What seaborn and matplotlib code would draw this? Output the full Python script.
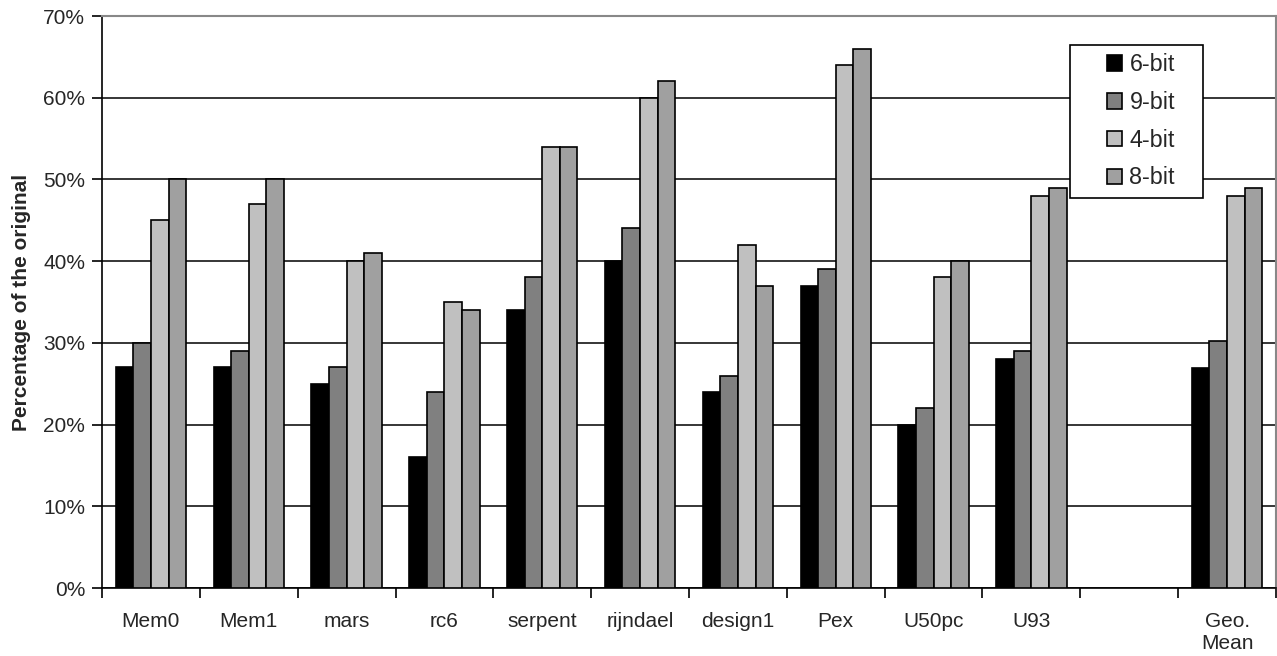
import matplotlib
matplotlib.use("Agg")
import matplotlib.pyplot as plt
import matplotlib.patches as mpatches
from matplotlib.legend_handler import HandlerPatch
import numpy as np
import pandas as pd
import seaborn as sns

# Benchmarks (one blank slot before the geometric mean)
categories = ["Mem0", "Mem1", "mars", "rc6", "serpent", "rijndael",
              "design1", "Pex", "U50pc", "U93", " ", "Geo.\nMean"]
series = ["6-bit", "9-bit", "4-bit", "8-bit"]

vals_6bit = [27, 27, 25, 16, 34, 40, 24, 37, 20, 28, None, 26.9]
vals_9bit = [30, 29, 27, 24, 38, 44, 26, 39, 22, 29, None, 30.2]
vals_4bit = [45, 47, 40, 35, 54, 60, 42, 64, 38, 48, None, 48]
vals_8bit = [50, 50, 41, 34, 54, 62, 37, 66, 40, 49, None, 49]

colors = ["#000000", "#808080", "#C0C0C0", "#A0A0A0"]

rows = []
for name, vals in zip(series, [vals_6bit, vals_9bit, vals_4bit, vals_8bit]):
    for cat, v in zip(categories, vals):
        if v is not None:
            rows.append({"bench": cat, "config": name, "pct": v})
df = pd.DataFrame(rows)

sns.set_theme(style="white")
plt.rcParams["font.family"] = ["Liberation Sans", "DejaVu Sans"]

fig = plt.figure(figsize=(12.77, 6.56), dpi=100)
ax = fig.add_axes([102 / 1277, 1 - 588 / 656, (1276 - 102) / 1277, (588 - 16) / 656])

sns.barplot(data=df, x="bench", y="pct", hue="config", order=categories,
            hue_order=series, palette=colors, width=0.72, gap=0,
            edgecolor="black", linewidth=1.2, saturation=1, ax=ax, zorder=3)

ax.set_ylim(0, 70)
ax.set_xlim(-0.5, len(categories) - 0.5)
ax.set_yticks(np.arange(0, 71, 10))
ax.set_yticklabels([f"{t}%" for t in range(0, 71, 10)], fontsize=15)
ax.yaxis.grid(True, color="black", linewidth=1.1, zorder=0)
ax.set_axisbelow(True)

# Category boundaries carry the tick marks; labels sit at the centres
ax.set_xticks(np.arange(-0.5, len(categories), 1.0))
ax.set_xticklabels([])
ax.set_xticks(np.arange(len(categories)), minor=True)
ax.set_xticklabels(categories, minor=True, fontsize=15, linespacing=1.2)
ax.tick_params(axis="x", which="major", direction="out", length=7, width=1.2,
               color="black", bottom=True)
ax.tick_params(axis="x", which="minor", length=0, pad=17)
ax.tick_params(axis="y", direction="out", length=7, width=1.2, color="black",
               left=True, pad=5)

ax.set_xlabel("")
ax.set_ylabel("Percentage of the original", fontsize=15, fontweight="bold")
ax.yaxis.set_label_coords(-(102 - 31) / 1174, 0.5)

for side in ["left", "bottom"]:
    ax.spines[side].set_color("black")
    ax.spines[side].set_linewidth(1.2)
for side in ["top", "right"]:
    ax.spines[side].set_color("#888888")
    ax.spines[side].set_linewidth(1.5)


def square_handle(legend, orig_handle, xdescent, ydescent, width, height, fontsize):
    # square swatch pushed to the right end of the handle slot
    return mpatches.Rectangle((-xdescent + width - height, -ydescent), height, height)


handles, labels = ax.get_legend_handles_labels()
leg = ax.legend(handles, labels, loc="upper left",
                bbox_to_anchor=(0.8245, 0.949, 0.1133, 0), mode="expand",
                borderaxespad=0, fontsize=16.8, frameon=True, fancybox=False,
                shadow=False, handlelength=1.9, handleheight=0.64,
                handletextpad=0.3, labelspacing=0.63, borderpad=0.35,
                handler_map={mpatches.Rectangle: HandlerPatch(patch_func=square_handle)})
leg.get_frame().set_edgecolor("black")
leg.get_frame().set_linewidth(1.2)
leg.get_frame().set_alpha(1)

fig.savefig("out.png", dpi=100)
